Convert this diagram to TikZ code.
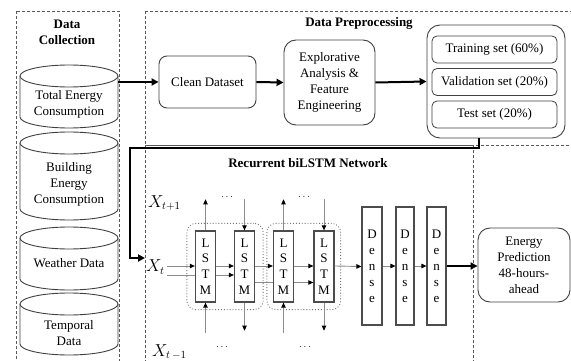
\documentclass[tikz,border=0pt]{standalone}
\usepackage{fontspec}
\setmainfont{Liberation Serif}
\usetikzlibrary{arrows.meta,fit,calc}
\newcommand\mycyl[5]{%
  \fill[white] (20,-#2-11) -- (20,-#3+11) arc (180:360:49pt and 11pt) -- (118,-#2-11) -- cycle;
  \draw[cylst] (20,-#2-11) -- (20,-#3+11) arc (180:360:49pt and 11pt) -- (118,-#2-11);
  \draw[cylst, fill=white] (69,-#2-11) ellipse (49pt and 11pt);
  \node[txt, align=center] (#1) at (69,-#4) {#5};
}
\begin{document}
\begin{tikzpicture}[x=1pt,y=1pt,
  txt/.style={font=\fontsize{13}{16}\selectfont, inner sep=0pt},
  ttl/.style={font=\fontsize{13}{16}\selectfont\bfseries, inner sep=0pt, align=center},
  proc/.style={draw=black!75, line width=0.9pt, rounded corners=10pt, align=center, inner sep=0pt, font=\fontsize{13}{16}\selectfont},
  setbox/.style={draw=black!75, line width=0.8pt, rounded corners=5pt, inner sep=0pt, minimum width=125pt, minimum height=27pt, font=\fontsize{13}{16}\selectfont},
  lstm/.style={draw=black!70, line width=1.3pt, inner sep=0pt, minimum width=20pt, minimum height=71pt, align=center, font=\fontsize{13}{15.7}\selectfont},
  dense/.style={draw=black!70, line width=1.1pt, inner sep=0pt, minimum width=19pt, minimum height=118pt, align=center, font=\fontsize{13}{16}\selectfont},
  grpbox/.style={draw=black!65, line width=0.6pt, dash pattern=on 3pt off 2pt},
  dotgrp/.style={draw=black!55, line width=0.9pt, dotted, rounded corners=9pt, inner sep=0pt},
  cylst/.style={draw=black!75, line width=0.9pt},
  flow/.style={line width=2pt, -{Triangle[length=7pt,width=7pt]}},
  thinar/.style={draw=black!45, line width=0.9pt, -{Triangle[length=5pt,width=4.5pt,color=black]}},
  thinln/.style={draw=black!45, line width=0.9pt},
  xlab/.style={font=\fontsize{16}{18}\selectfont, inner sep=0pt, anchor=west},
  dts/.style={font=\fontsize{10}{12}\selectfont, inner sep=0pt}
]
\useasboundingbox (0,0) rectangle (571,-361);
\fill[white] (0,0) rectangle (571,-361);

% group frames
\draw[grpbox] (16,-11) rectangle (119,-370);
\draw[grpbox] (145,-11) rectangle (590,-145);
\draw[grpbox] (145,-145) rectangle (473,-370);

% titles
\node[ttl] (tdc) at (67,-32) {Data\\Collection};
\node[ttl] (tdp) at (359,-23) {Data Preprocessing};
\node[ttl] (trn) at (308,-163) {Recurrent biLSTM Network};

% cylinders
\mycyl{cy1}{65}{128}{104.5}{Total Energy\\Consumption}
\mycyl{cy2}{132}{220}{184}{Building\\Energy\\Consumption}
\mycyl{cy3}{227}{290}{263}{Weather Data}
\mycyl{cy4}{293}{355}{333.5}{Temporal\\Data}
\coordinate (cy1e) at (118,-82);

% preprocessing
\node[proc, rounded corners=8pt, minimum width=97pt, minimum height=52pt] (clean) at (207.5,-82) {Clean Dataset};
\node[proc, rounded corners=12pt, minimum width=91pt, minimum height=85pt] (expl) at (329.5,-82.5) {Explorative\\Analysis \&\\Feature\\Engineering};
\node[proc, rounded corners=13pt, minimum width=138pt, minimum height=113pt] (split) at (496,-81.5) {};
\node[setbox] (train) at (494.5,-49.5) {Training set (60\%)};
\node[setbox] (valid) at (494.5,-82) {Validation set (20\%)};
\node[setbox] (test) at (494.5,-114.5) {Test set (20\%)};

\draw[flow] (cy1e) -- (clean.west);
\draw[flow] (clean.east) -- (expl.west);
\draw[flow] (expl.east) -- (split.west);
\coordinate (rnin) at (145,-258);
\draw[flow] ([xshift=-17pt]split.south) -- ++(0,-10) -| ($(rnin)+(-15,0)$) -- (rnin);

% LSTM cells
\node[lstm] (l1) at (205.5,-266.5) {L\\S\\T\\M};
\node[lstm] (l2) at (244.5,-266.5) {L\\S\\T\\M};
\node[lstm] (l3) at (283.5,-266.5) {L\\S\\T\\M};
\node[lstm] (l4) at (324,-266.5) {L\\S\\T\\M};
\node[dotgrp, fit=(l1)(l2), inner xsep=8pt, inner ysep=7pt] (g1) {};
\node[dotgrp, fit=(l3)(l4), inner xsep=6pt, inner ysep=7pt] (g2) {};

% dense layers
\node[dense, minimum width=20pt] (d1) at (372,-266) {D\\e\\n\\s\\e};
\node[dense, minimum width=18pt] (d2) at (405,-266) {D\\e\\n\\s\\e};
\node[dense] (d3) at (436.5,-266) {D\\e\\n\\s\\e};

\node[proc, rounded corners=12pt, minimum width=92pt, minimum height=74pt] (pred) at (524,-265) {Energy\\Prediction\\48-hours-\\ahead};

% input labels
\node[xlab] (xt1) at (148,-203) {$X_{t+1}$};
\node[xlab] (xt) at (146,-267) {$X_t$};
\node[xlab] (xt0) at (152,-352) {$X_{t\,-1}$};

\node[dts] (dt1) at (227,-197) {$\cdots$};
\node[dts] (dt2) at (304,-197) {$\cdots$};
\node[dts] (db1) at (222,-347) {$\cdots$};
\node[dts] (db2) at (305,-347) {$\cdots$};

% horizontal connections
\draw[thinar] ($(l1.west)+(-28,0.5)$) -- ([yshift=0.5pt]l1.west);
\draw[thinln] ($(l1.west)+(-28,-8.5)$) -- ([yshift=-8.5pt]l1.west);
\draw[thinar] ([yshift=0.5pt]l1.east) -- ([yshift=0.5pt]l2.west);
\draw[thinar] ([yshift=-8.5pt]l1.east) -- ([yshift=-8.5pt]l2.west);
\draw[thinar] ([yshift=0.5pt]l2.east) -- ([yshift=0.5pt]l3.west);
\draw[thinln] ([yshift=-16pt]l2.east) -- ([yshift=-16pt]l3.west);
\draw[thinar] ([yshift=0.5pt]l3.east) -- ([yshift=0.5pt]l4.west);
\draw[thinar] ([yshift=-16pt]l3.east) -- ([yshift=-16pt]l4.west);
\draw[thinar] ([yshift=0.5pt]l4.east) -- (l4.east -| d1.west);
\draw[thinar] (d1.east) -- (d2.west);
\draw[thinar] (d2.east) -- (d3.west);
\draw[flow] (d3.east) -- (d3.east -| pred.west);

% vertical connections
\draw[thinar] (l1.north) -- ++(0,31);
\draw[thinar] ([yshift=-30pt]l1.south) -- (l1.south);
\draw[thinar] ([yshift=31pt]l2.north) -- (l2.north);
\draw[thinar] (l2.south) -- ++(0,-28);
\draw[thinar] (l3.north) -- ++(0,31);
\draw[thinar] ([yshift=-30pt]l3.south) -- (l3.south);
\draw[thinar] ([yshift=31pt]l4.north) -- (l4.north);
\draw[thinar] (l4.south) -- ++(0,-28);
\end{tikzpicture}
\end{document}
